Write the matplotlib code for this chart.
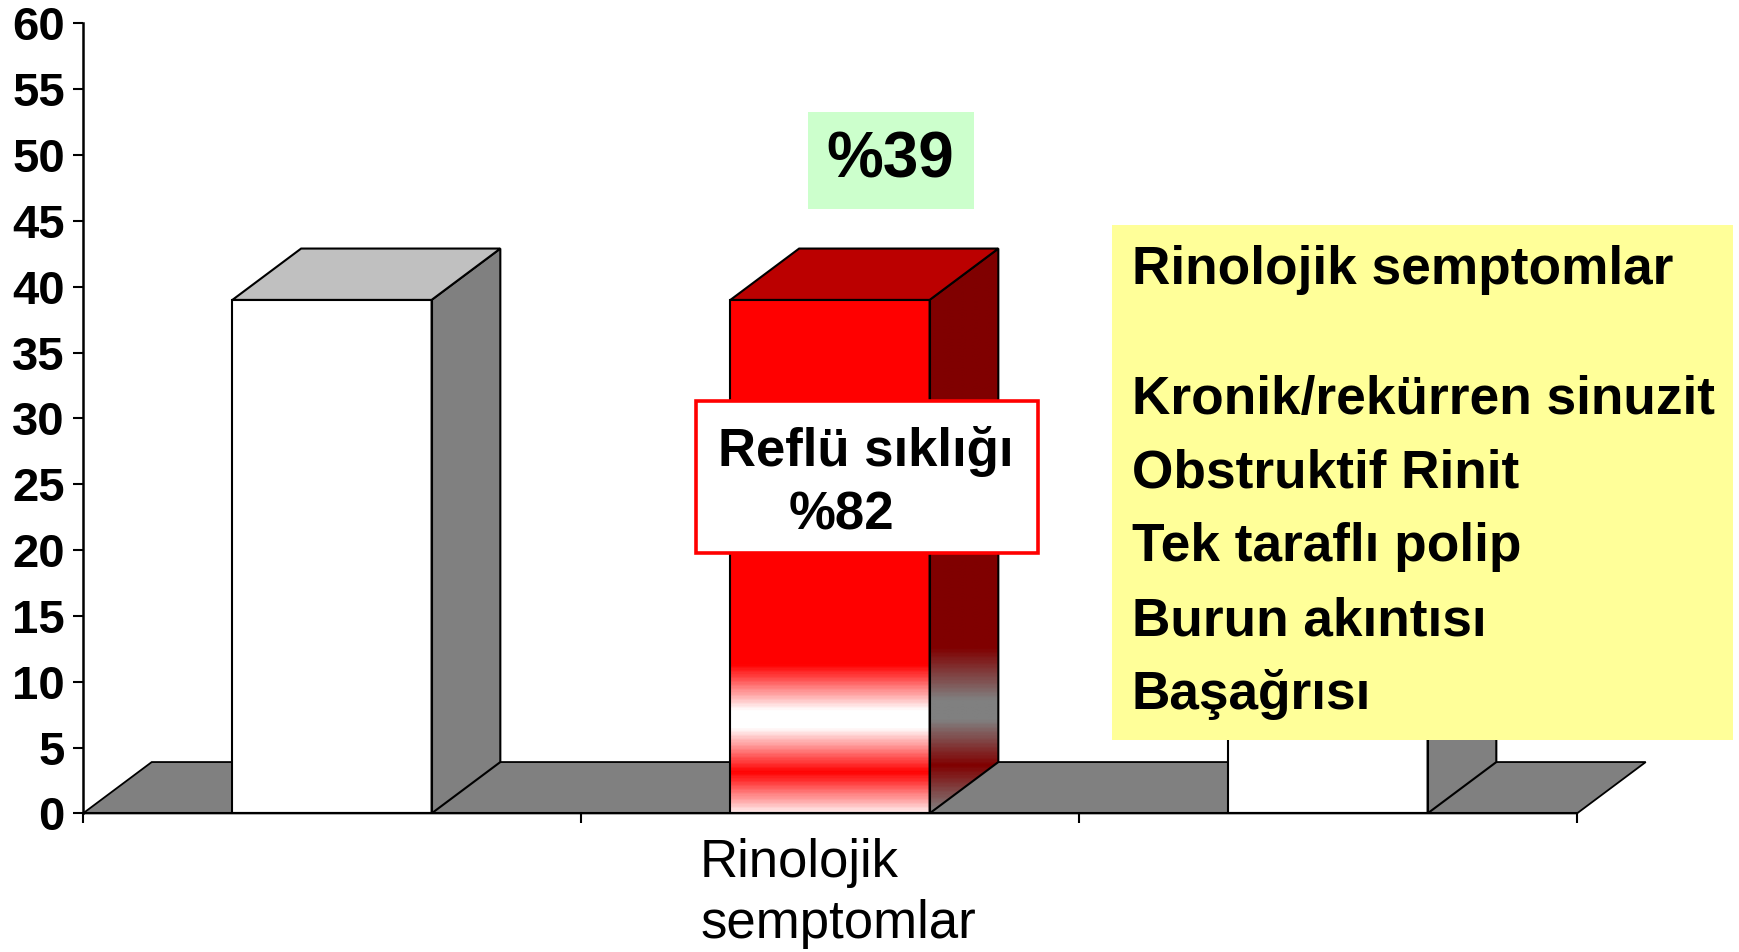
import numpy as np
import matplotlib
matplotlib.use("Agg")
import matplotlib.pyplot as plt
from matplotlib.patches import Polygon, Rectangle
from matplotlib.colors import LinearSegmentedColormap
from matplotlib.transforms import ScaledTranslation

# ---------------- data ----------------
categories = ["", "Rinolojik\nsemptomlar", ""]
values = [39, 39, 39]
bar_kinds = ["plain", "highlight", "plain"]
y_ticks = list(range(0, 61, 5))
highlight_label = "%39"
reflux_title = "Reflü sıklığı"
reflux_value = "%82"
legend_title = "Rinolojik semptomlar"
symptoms = ["Kronik/rekürren sinuzit", "Obstruktif Rinit", "Tek taraflı polip",
            "Burun akıntısı", "Başağrısı"]

# ---------------- style ----------------
FONT = "Liberation Sans"
W, H, DPI = 1740, 952, 100
DX, DY = 0.138, 3.9          # pseudo-3D depth offset (data units)
BAR_W = 0.4
GRAY = "#808080"

fig = plt.figure(figsize=(W / DPI, H / DPI), dpi=DPI)
ax = fig.add_axes([83 / W, 1 - 813.4 / H, 1494 / W, 790 / H])
n = len(values)

# floor
ax.add_patch(Polygon([(0, 0), (n, 0), (n + DX, DY), (DX, DY)], closed=True,
                     fc=GRAY, ec="black", lw=1.3, zorder=1, clip_on=False))

for i, (v, kind) in enumerate(zip(values, bar_kinds)):
    x0 = i + 0.5 - BAR_W / 2
    x1 = x0 + BAR_W
    front = Rectangle((x0, 0), BAR_W, v, fc="none", ec="black", lw=1.5, zorder=5)
    side_pts = [(x1, 0), (x1 + DX, DY), (x1 + DX, v + DY), (x1, v)]
    top_pts = [(x0, v), (x1, v), (x1 + DX, v + DY), (x0 + DX, v + DY)]
    if kind == "highlight":
        cm_front = LinearSegmentedColormap.from_list(
            "f", [(0.0, "#ffe6e6"), (3.0 / v, "#ff0000"), (6.4 / v, "#ffffff"),
                  (7.7 / v, "#ffffff"), (11.2 / v, "#ff0000"), (1.0, "#ff0000")])
        cm_side = LinearSegmentedColormap.from_list(
            "s", [(0.0, GRAY), (3.5 / (v + DY), "#800000"), (7.0 / (v + DY), GRAY),
                  (8.5 / (v + DY), GRAY), (12.5 / (v + DY), "#800000"), (1.0, "#800000")])
        yy = np.linspace(0, 1, 400).reshape(-1, 1)
        ax.imshow(yy, cmap=cm_front, origin="lower", extent=[x0, x1, 0, v],
                  aspect="auto", interpolation="bilinear", zorder=3)
        side_poly = Polygon(side_pts, closed=True, fc="none", ec="black", lw=1.5, zorder=5)
        ax.add_patch(side_poly)
        im = ax.imshow(yy, cmap=cm_side, origin="lower", extent=[x1, x1 + DX, 0, v + DY],
                       aspect="auto", interpolation="bilinear", zorder=3)
        im.set_clip_path(side_poly)
        top_fc = "#bb0000"
    else:
        ax.add_patch(Rectangle((x0, 0), BAR_W, v, fc="white", ec="none", zorder=3))
        ax.add_patch(Polygon(side_pts, closed=True, fc=GRAY, ec="black", lw=1.5, zorder=5))
        top_fc = "#c0c0c0"
    ax.add_patch(front)
    ax.add_patch(Polygon(top_pts, closed=True, fc=top_fc, ec="black", lw=1.5, zorder=5))

# axes
ax.set_xlim(0, n)
ax.set_ylim(0, 60)
for s in ("top", "right"):
    ax.spines[s].set_visible(False)
ax.spines["left"].set_linewidth(1.8)
ax.spines["bottom"].set_linewidth(1.5)
ax.spines["bottom"].set_zorder(6)
ax.set_yticks(y_ticks)
ax.set_yticklabels([str(t) for t in y_ticks], fontfamily=FONT, fontweight="bold", fontsize=34)
ax.tick_params(axis="y", length=7, width=1.5, pad=6)
ax.set_xticks(range(n + 1))
ax.set_xticklabels([])
ax.tick_params(axis="x", which="major", length=7, width=1.5)
ax.set_xticks([i + 0.5 for i in range(n)], minor=True)
ax.set_xticklabels(categories, minor=True, fontfamily=FONT, fontsize=38,
                   multialignment="left", linespacing=1.26)
ax.tick_params(axis="x", which="minor", length=0, pad=18)
shift = ScaledTranslation(8 / DPI, 0, fig.dpi_scale_trans)
for lbl in ax.get_xticklabels(minor=True):
    lbl.set_transform(lbl.get_transform() + shift)
ax.patch.set_visible(False)

# green label box
ax.add_patch(Rectangle((1.456, 45.9), 0.333, 7.4, fc="#ccffcc", ec="none",
                       zorder=7, clip_on=False))
ax.text(1.620, 49.6, highlight_label, ha="center", va="center", fontfamily=FONT,
        fontweight="bold", fontsize=46, zorder=8)

# reflux box
ax.add_patch(Rectangle((1.231, 19.8), 0.687, 11.55, fc="white", ec="#ff0000", lw=2.6,
                       zorder=7, clip_on=False))
ax.text(1.571, 27.5, reflux_title, ha="center", va="center", fontfamily=FONT,
        fontweight="bold", fontsize=38, zorder=8)
ax.text(1.522, 22.6, reflux_value, ha="center", va="center", fontfamily=FONT,
        fontweight="bold", fontsize=38, zorder=8)

# yellow legend box
ax.add_patch(Rectangle((2.066, 5.57), 1.247, 39.1, fc="#ffff99", ec="none",
                       zorder=7, clip_on=False))
ax.text(2.106, 41.3, legend_title, ha="left", va="center", fontfamily=FONT,
        fontweight="bold", fontsize=38.3, zorder=8, clip_on=False)
sym_y = [31.43, 25.79, 20.23, 14.58, 9.01]
for yv, s in zip(sym_y, symptoms):
    ax.text(2.106, yv, s, ha="left", va="center", fontfamily=FONT,
            fontweight="bold", fontsize=38.3, zorder=8, clip_on=False)

fig.savefig("out.png", dpi=DPI)
